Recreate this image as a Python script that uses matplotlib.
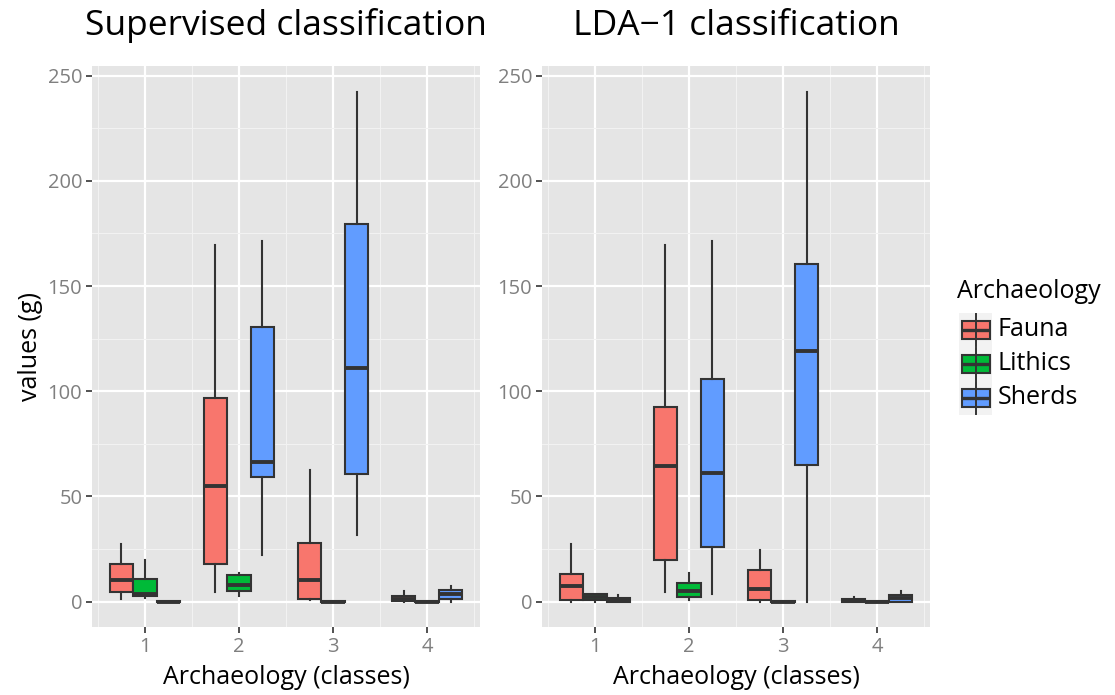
import matplotlib
matplotlib.use("Agg")
import matplotlib.pyplot as plt
from matplotlib.patches import Rectangle
import numpy as np

plt.rcParams['font.family'] = ['Open Sans', 'DejaVu Sans']

categories = [1, 2, 3, 4]
groups = ["Fauna", "Lithics", "Sherds"]
colors = {"Fauna": "#F8766D", "Lithics": "#00BA38", "Sherds": "#619CFF"}

# ---- Supervised classification ----
sup_fauna_whislo = [1.2, 4.4, 0.5, 0.0]
sup_fauna_q1 = [4.6, 17.6, 1.4, 0.2]
sup_fauna_med = [10.0, 54.7, 10.0, 1.2]
sup_fauna_q3 = [18.0, 96.8, 27.9, 2.7]
sup_fauna_whishi = [27.4, 169.7, 62.4, 4.9]

sup_lithics_whislo = [1.6, 2.5, 0.0, 0.0]
sup_lithics_q1 = [2.5, 4.9, 0.0, 0.0]
sup_lithics_med = [3.5, 8.0, 0.0, 0.0]
sup_lithics_q3 = [10.5, 12.8, 0.3, 0.3]
sup_lithics_whishi = [19.5, 13.6, 0.3, 0.3]

sup_sherds_whislo = [0.0, 22.3, 31.4, 0.0]
sup_sherds_q1 = [0.0, 59.0, 60.4, 1.3]
sup_sherds_med = [0.0, 66.5, 110.9, 3.7]
sup_sherds_q3 = [0.3, 130.4, 179.7, 5.4]
sup_sherds_whishi = [0.3, 171.6, 242.5, 7.3]

# ---- LDA-1 classification ----
lda_fauna_whislo = [0.0, 4.4, 0.0, 0.0]
lda_fauna_q1 = [0.8, 19.8, 0.8, 0.0]
lda_fauna_med = [7.3, 64.6, 6.0, 0.5]
lda_fauna_q3 = [13.2, 92.3, 15.2, 1.2]
lda_fauna_whishi = [27.4, 169.7, 24.7, 2.0]

lda_lithics_whislo = [0.0, 0.5, 0.0, 0.0]
lda_lithics_q1 = [0.5, 2.1, 0.0, 0.0]
lda_lithics_med = [2.0, 5.0, 0.0, 0.0]
lda_lithics_q3 = [3.8, 8.7, 0.3, 0.3]
lda_lithics_whishi = [3.8, 13.6, 0.3, 0.3]

lda_sherds_whislo = [0.0, 3.8, 0.0, 0.0]
lda_sherds_q1 = [0.0, 26.0, 65.0, 0.0]
lda_sherds_med = [0.5, 61.0, 119.0, 1.5]
lda_sherds_q3 = [1.5, 106.0, 160.6, 3.0]
lda_sherds_whishi = [2.9, 171.6, 242.5, 5.0]

panels = [
    ("Supervised classification", {
        "Fauna": (sup_fauna_whislo, sup_fauna_q1, sup_fauna_med, sup_fauna_q3, sup_fauna_whishi),
        "Lithics": (sup_lithics_whislo, sup_lithics_q1, sup_lithics_med, sup_lithics_q3, sup_lithics_whishi),
        "Sherds": (sup_sherds_whislo, sup_sherds_q1, sup_sherds_med, sup_sherds_q3, sup_sherds_whishi),
    }),
    ("LDA\u22121 classification", {
        "Fauna": (lda_fauna_whislo, lda_fauna_q1, lda_fauna_med, lda_fauna_q3, lda_fauna_whishi),
        "Lithics": (lda_lithics_whislo, lda_lithics_q1, lda_lithics_med, lda_lithics_q3, lda_lithics_whishi),
        "Sherds": (lda_sherds_whislo, lda_sherds_q1, lda_sherds_med, lda_sherds_q3, lda_sherds_whishi),
    }),
]

W, H = 1115, 695
fig = plt.figure(figsize=(W / 100, H / 100), dpi=100)
fig.patch.set_facecolor("white")

edge = "#333333"
axes_px = [(92, 66, 388, 561), (542, 66, 388, 561)]
offsets = [-0.25, 0.0, 0.25]

ymax_all = max(max(sup_sherds_whishi), max(lda_sherds_whishi))
ymin_all = 0.0
span = ymax_all - ymin_all

for (title, data), (px, py, pw, ph) in zip(panels, axes_px):
    ax = fig.add_axes([px / W, 1 - (py + ph) / H, pw / W, ph / H])
    ax.set_facecolor("#E5E5E5")
    for sp in ax.spines.values():
        sp.set_visible(False)
    ax.set_xlim(0.4375, 4.5625)
    ax.set_ylim(ymin_all - 0.05 * span, ymax_all + 0.05 * span)
    ax.set_xticks(categories)
    ax.set_xticks([0.5, 1.5, 2.5, 3.5, 4.5], minor=True)
    ax.set_yticks([0, 50, 100, 150, 200, 250])
    ax.set_yticks([25, 75, 125, 175, 225], minor=True)
    ax.grid(which="major", color="white", linewidth=1.6)
    ax.grid(which="minor", color="#F2F2F2", linewidth=0.8)
    ax.set_axisbelow(True)
    ax.tick_params(which="major", length=4, width=1.2, color="#333333",
                   labelcolor="#7F7F7F", labelsize=14.5, pad=3)
    ax.tick_params(which="minor", length=0)

    for gi, g in enumerate(groups):
        lo, q1, med, q3, hi = data[g]
        stats = []
        for i in range(len(categories)):
            stats.append(dict(whislo=lo[i], q1=q1[i], med=med[i], q3=q3[i],
                              whishi=hi[i], fliers=[]))
        pos = [c + offsets[gi] for c in categories]
        ax.bxp(stats, positions=pos, widths=0.25, showcaps=False,
               patch_artist=True, manage_ticks=False,
               boxprops=dict(facecolor=colors[g], edgecolor=edge, linewidth=1.5),
               whiskerprops=dict(color=edge, linewidth=1.5),
               medianprops=dict(color=edge, linewidth=2.8, solid_capstyle="butt"),
               showfliers=False)

    ax.set_title(title, fontsize=25.5, pad=22, color="black")
    ax.set_xlabel("Archaeology (classes)", fontsize=18, labelpad=6)
    if px < 100:
        ax.set_ylabel("values (g)", fontsize=18, labelpad=3)

# Legend drawn in pixel coordinates
lg = fig.add_axes([0, 0, 1, 1])
lg.set_xlim(0, W)
lg.set_ylim(H, 0)
lg.axis("off")
lg.text(957, 291, "Archaeology", fontsize=18, va="center", ha="left")
key_centers = [330, 364, 398]
for g, cy in zip(groups, key_centers):
    lg.add_patch(Rectangle((959, cy - 17), 33, 34, facecolor="#F2F2F2", edgecolor="none"))
    lg.plot([976, 976], [cy - 16, cy + 16], color=edge, linewidth=1.4)
    lg.add_patch(Rectangle((962, cy - 9), 28, 18, facecolor=colors[g], edgecolor=edge, linewidth=1.5))
    lg.plot([962, 990], [cy, cy], color=edge, linewidth=2.4, solid_capstyle="butt")
    lg.text(998, cy, g, fontsize=18, va="center", ha="left")

fig.savefig("out.png", dpi=100)
